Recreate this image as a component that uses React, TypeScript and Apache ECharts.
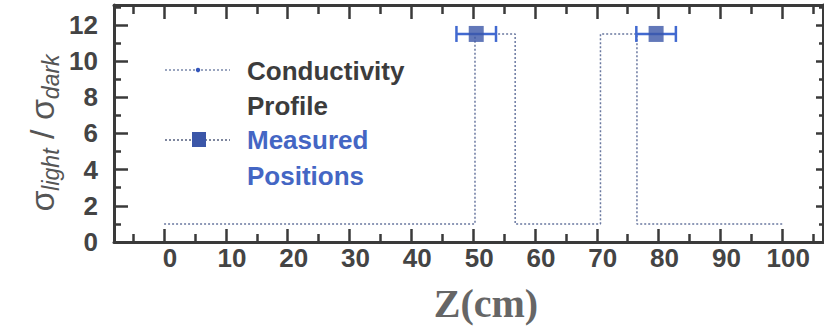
import React, { useEffect, useRef } from "react";
import * as echarts from "echarts";

// ---- data ----
const X_MAJOR = [0, 10, 20, 30, 40, 50, 60, 70, 80, 90, 100];
const X_MINOR = [-5, 5, 15, 25, 35, 45, 55, 65, 75, 85, 95, 105];
const Y_MAJOR = [0, 2, 4, 6, 8, 10, 12];
const Y_MINOR = [1, 3, 5, 7, 9, 11, 13];

const profileZ = [0, 50.3, 50.3, 56.8, 56.8, 70.6, 70.6, 76.5, 76.5, 100.2];
const profileRatio = [1, 1, 11.5, 11.5, 1, 1, 11.5, 11.5, 1, 1];

const measuredZ = [50.5, 79.6];
const measuredRatio = [11.5, 11.5];
const measuredErr = [3.2, 3.2];

const X_MIN = -8.1;
const X_MAX = 106.6;
const Y_MIN = 0;
const Y_MAX = 13.1;

const AXIS_COLOR = "#3a3a3a";
const LABEL_COLOR = "#444";
const FONT = "'Liberation Sans', Arial, sans-serif";

function xAxis(position: "top" | "bottom", values: number[], len: number, showLine: boolean, labels: boolean) {
  return {
    type: "value",
    position,
    min: X_MIN,
    max: X_MAX,
    axisLine: { show: showLine, onZero: false, lineStyle: { color: AXIS_COLOR, width: 3 } },
    axisTick: { show: true, inside: true, length: len, customValues: values, lineStyle: { color: AXIS_COLOR, width: 2.5 } },
    axisLabel: labels
      ? { show: true, customValues: values, margin: 3, color: LABEL_COLOR, fontSize: 26, fontWeight: "bold", fontFamily: FONT, padding: [0, 0, 0, 12] }
      : { show: false },
    splitLine: { show: false },
  };
}

function yAxis(position: "left" | "right", values: number[], len: number, showLine: boolean, labels: boolean) {
  return {
    type: "value",
    position,
    min: Y_MIN,
    max: Y_MAX,
    axisLine: { show: showLine, onZero: false, lineStyle: { color: AXIS_COLOR, width: 3 } },
    axisTick: { show: true, inside: true, length: len, customValues: values, lineStyle: { color: AXIS_COLOR, width: 2.5 } },
    axisLabel: labels
      ? { show: true, customValues: values, margin: 16, color: LABEL_COLOR, fontSize: 26, fontWeight: "bold", fontFamily: FONT }
      : { show: false },
    splitLine: { show: false },
  };
}

export default function App() {
  const ref = useRef<HTMLDivElement>(null);
  useEffect(() => {
    if (!ref.current) return;
    const chart = echarts.init(ref.current, null, { renderer: "svg" });
    const profile = profileZ.map((z, i) => [z, profileRatio[i]]);
    const measured = measuredZ.map((z, i) => [z, measuredRatio[i]]);
    const errData = measuredZ.map((z, i) => [z, measuredRatio[i], measuredErr[i]]);
    const ERR_COLOR = "#4169d0";

    chart.setOption({
      animation: false,
      backgroundColor: "#ffffff",
      grid: { left: 114, right: 1, top: 5, bottom: 87, containLabel: false },
      xAxis: [
        xAxis("bottom", X_MAJOR, 13, true, true),
        xAxis("bottom", X_MINOR, 8, false, false),
        xAxis("top", X_MAJOR, 14, true, false),
        xAxis("top", X_MINOR, 9, false, false),
      ],
      yAxis: [
        yAxis("left", Y_MAJOR, 14, true, true),
        yAxis("left", Y_MINOR, 7, false, false),
        yAxis("right", Y_MAJOR, 7, true, false),
        yAxis("right", Y_MINOR, 4, false, false),
      ],
      series: [
        {
          name: "Conductivity Profile",
          type: "line",
          xAxisIndex: 0,
          yAxisIndex: 0,
          data: profile,
          symbol: "none",
          lineStyle: { color: "#6a78a0", width: 1.5, type: [2, 2] },
          z: 2,
        },
        {
          name: "Measured Error",
          type: "custom",
          xAxisIndex: 0,
          yAxisIndex: 0,
          data: errData,
          z: 3,
          renderItem: (params: any, api: any) => {
            const x = api.value(0);
            const y = api.value(1);
            const e = api.value(2);
            const l = api.coord([x - e, y]);
            const r = api.coord([x + e, y]);
            const cap = 8;
            const st = { stroke: ERR_COLOR, lineWidth: 2.5 };
            return {
              type: "group",
              children: [
                { type: "line", shape: { x1: l[0], y1: l[1], x2: r[0], y2: r[1] }, style: st },
                { type: "line", shape: { x1: l[0], y1: l[1] - cap, x2: l[0], y2: l[1] + cap }, style: st },
                { type: "line", shape: { x1: r[0], y1: r[1] - cap, x2: r[0], y2: r[1] + cap }, style: st },
              ],
            };
          },
        },
        {
          name: "Measured Positions",
          type: "scatter",
          xAxisIndex: 0,
          yAxisIndex: 0,
          data: measured,
          symbol: "rect",
          symbolSize: [15, 16],
          itemStyle: { color: "#3b56a8" },
          z: 4,
        },
      ],
      graphic: [
        { type: "line", shape: { x1: 165, y1: 70, x2: 230, y2: 70 }, style: { stroke: "#7a88aa", lineWidth: 1.5, lineDash: [2, 2] } },
        { type: "circle", shape: { cx: 198, cy: 70, r: 2.2 }, style: { fill: "#3355bb" } },
        { type: "text", x: 247, y: 71, style: { text: "Conductivity", fill: "#3c3c3c", font: `bold 26px ${FONT}`, verticalAlign: "middle" } },
        { type: "text", x: 247, y: 106, style: { text: "Profile", fill: "#3c3c3c", font: `bold 26px ${FONT}`, verticalAlign: "middle" } },
        { type: "line", shape: { x1: 165, y1: 140, x2: 230, y2: 140 }, style: { stroke: "#556080", lineWidth: 1.5, lineDash: [2, 2] } },
        { type: "rect", shape: { x: 192, y: 132, width: 14, height: 15 }, style: { fill: "#3b56a8" } },
        { type: "text", x: 247, y: 140, style: { text: "Measured", fill: "#4466c4", font: `bold 26px ${FONT}`, verticalAlign: "middle" } },
        { type: "text", x: 247, y: 176, style: { text: "Positions", fill: "#4466c4", font: `bold 26px ${FONT}`, verticalAlign: "middle" } },
        {
          type: "text",
          x: 42,
          y: 133,
          rotation: Math.PI / 2,
          style: {
            text: "{s|σ}{sub|light}{s| / σ}{sub|dark}",
            align: "center",
            verticalAlign: "middle",
            rich: {
              s: { fontSize: 34, fontFamily: FONT, fill: "#555", color: "#555", lineHeight: 40, verticalAlign: "middle" },
              sub: { fontSize: 23, fontStyle: "italic", fontFamily: FONT, fill: "#555", color: "#555", lineHeight: 18, verticalAlign: "bottom" },
            },
          },
        },
        {
          type: "text",
          x: 486,
          y: 303,
          style: { text: "Z(cm)", fill: "#666", font: `bold 40px 'Liberation Serif', 'Times New Roman', serif`, align: "center", verticalAlign: "middle" },
        },
      ],
    });
    return () => chart.dispose();
  }, []);
  return <div ref={ref} style={{ width: 824, height: 329, position: "absolute", left: 0, top: 0 }} />;
}
